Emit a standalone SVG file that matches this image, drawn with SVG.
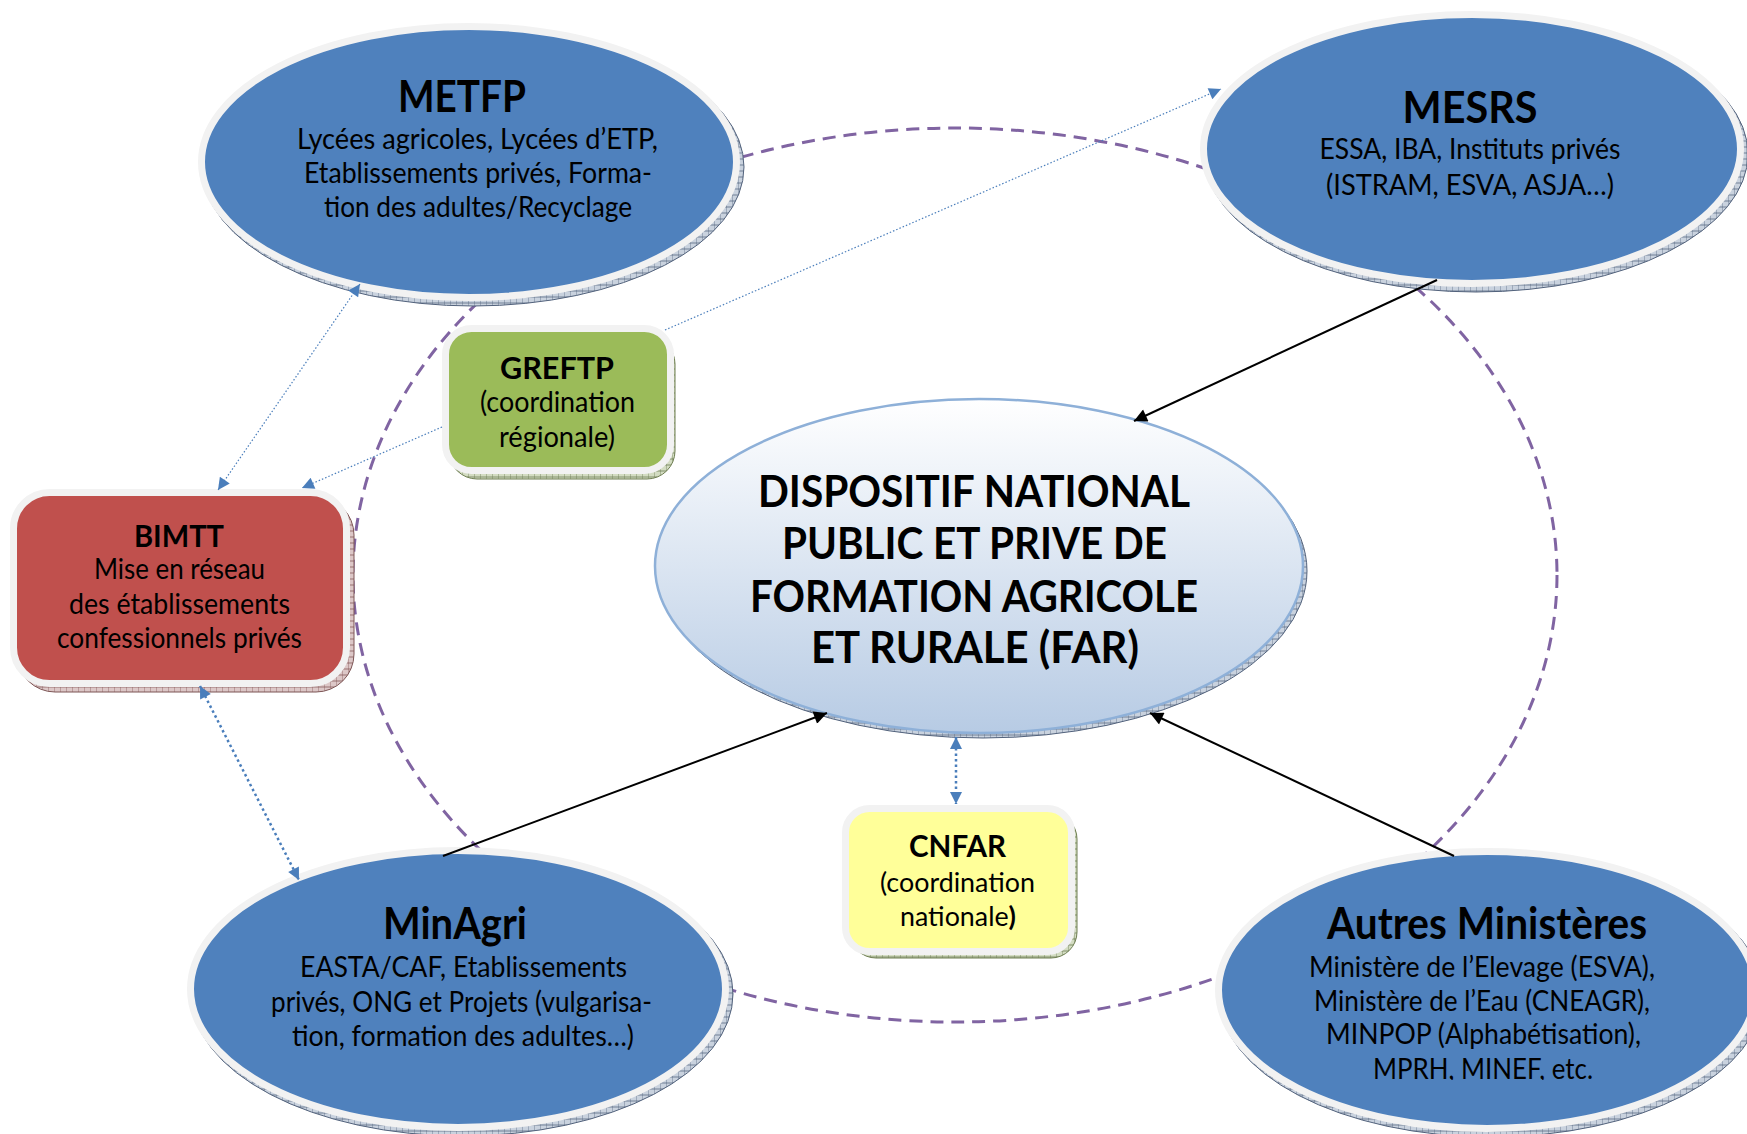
<svg xmlns="http://www.w3.org/2000/svg" width="1747" height="1134" viewBox="0 0 1747 1134">
  <defs>
    <style>
      .ell { fill: #4f81bd; stroke: #f2f2f2; stroke-width: 7; }
      .shadow-b { fill: url(#hatchBlue); stroke: #52627c; stroke-width: 1; }
      .shadow-g { fill: url(#hatchGreen); stroke: #6f7f52; stroke-width: 1; }
      .shadow-r { fill: url(#hatchRed); stroke: #7d5555; stroke-width: 1; }
      .box { stroke: #f2f2f2; stroke-width: 7; }
      text { font-family: Lato, "Liberation Sans", sans-serif; fill: #000; text-anchor: middle; }
      .t { font-weight: bold; font-size: 43px; }
      .tb { font-weight: bold; font-size: 31px; }
      .b { font-size: 28px; }
      .bs { font-size: 26px; }
      .far { font-weight: bold; font-size: 43px; }
      .ring { fill: none; stroke: #8064a2; stroke-width: 3; stroke-dasharray: 13 8; }
      .solid { stroke: #000; stroke-width: 2; fill: none; marker-end: url(#arrowBlack); }
      .dot-thin { stroke: #4a7ebb; stroke-width: 1.2; stroke-dasharray: 1.5 2; fill: none; }
      .dot-thick { stroke: #4a7ebb; stroke-width: 2.5; stroke-dasharray: 2.5 3; fill: none; }
    </style>
    <pattern id="hatchBlue" width="6" height="6" patternUnits="userSpaceOnUse">
      <rect width="6" height="6" fill="#c9d2de"/>
      <path d="M0,0 L0,6 M0,3 L6,3" stroke="#4a5a74" stroke-width="0.7"/>
    </pattern>
    <pattern id="hatchGreen" width="6" height="6" patternUnits="userSpaceOnUse">
      <rect width="6" height="6" fill="#d3dcc2"/>
      <path d="M0,0 L0,6 M0,3 L6,3" stroke="#5f6e44" stroke-width="0.7"/>
    </pattern>
    <pattern id="hatchRed" width="6" height="6" patternUnits="userSpaceOnUse">
      <rect width="6" height="6" fill="#dcc7c7"/>
      <path d="M0,0 L0,6 M0,3 L6,3" stroke="#7a4a4a" stroke-width="0.7"/>
    </pattern>
    <linearGradient id="farFill" x1="0" y1="0" x2="0" y2="1">
      <stop offset="0" stop-color="#ffffff"/>
      <stop offset="1" stop-color="#b7cbe4"/>
    </linearGradient>
    <marker id="arrowBlack" viewBox="0 0 10 10" refX="10" refY="5" markerWidth="17" markerHeight="13" markerUnits="userSpaceOnUse" orient="auto">
      <path d="M0,0 L10,5 L0,10 z" fill="#000"/>
    </marker>
    <marker id="arrowBlue" viewBox="0 0 10 10" refX="10" refY="5" markerWidth="16" markerHeight="12" markerUnits="userSpaceOnUse" orient="auto-start-reverse">
      <path d="M0,0 L10,5 L0,10 z" fill="#4a7ebb"/>
    </marker>
    <clipPath id="clipAutres">
      <rect x="1200" y="840" width="547" height="240"/>
    </clipPath>
  </defs>

  <!-- dashed ring linking the ministries -->
  <g id="ring">
    <ellipse class="ring" cx="955" cy="575" rx="602" ry="447"/>
  </g>

  <g id="metfp">
    <ellipse class="shadow-b" cx="473" cy="167" rx="271" ry="139"/>
    <ellipse class="ell" cx="469" cy="162" rx="267.5" ry="135.5"/>
    <text class="t" x="462" y="112" textLength="128" lengthAdjust="spacingAndGlyphs">METFP</text>
    <text class="b" x="477.5" y="149" textLength="361" lengthAdjust="spacingAndGlyphs">Lycées agricoles, Lycées d’ETP,</text>
    <text class="b" x="478" y="183" textLength="348" lengthAdjust="spacingAndGlyphs">Etablissements privés, Forma-</text>
    <text class="b" x="478" y="217" textLength="308" lengthAdjust="spacingAndGlyphs">tion des adultes/Recyclage</text>
  </g>

  <g id="mesrs">
    <ellipse class="shadow-b" cx="1476" cy="154" rx="272" ry="138"/>
    <ellipse class="ell" cx="1472" cy="149" rx="268.5" ry="134.5"/>
    <text class="t" x="1470" y="123" textLength="135" lengthAdjust="spacingAndGlyphs">MESRS</text>
    <text class="b" x="1470" y="159" textLength="301" lengthAdjust="spacingAndGlyphs">ESSA, IBA, Instituts privés</text>
    <text class="b" x="1470" y="195" textLength="288" lengthAdjust="spacingAndGlyphs">(ISTRAM, ESVA, ASJA…)</text>
  </g>

  <g id="minagri">
    <ellipse class="shadow-b" cx="462" cy="994" rx="271" ry="142"/>
    <ellipse class="ell" cx="458" cy="989" rx="267.5" ry="138.5"/>
    <text class="t" x="455" y="939" textLength="144" lengthAdjust="spacingAndGlyphs">MinAgri</text>
    <text class="b" x="463.5" y="977" textLength="327" lengthAdjust="spacingAndGlyphs">EASTA/CAF, Etablissements</text>
    <text class="b" x="461.5" y="1012" textLength="381" lengthAdjust="spacingAndGlyphs">privés, ONG et Projets (vulgarisa-</text>
    <text class="b" x="463" y="1046" textLength="342" lengthAdjust="spacingAndGlyphs">tion, formation des adultes…)</text>
  </g>

  <g id="autres">
    <ellipse class="shadow-b" cx="1491" cy="995" rx="272" ry="142"/>
    <ellipse class="ell" cx="1487" cy="990" rx="268.5" ry="138.5"/>
    <text class="t" x="1487" y="939" textLength="320" lengthAdjust="spacingAndGlyphs">Autres Ministères</text>
    <text class="b" x="1482" y="977" textLength="346" lengthAdjust="spacingAndGlyphs">Ministère de l’Elevage (ESVA),</text>
    <text class="b" x="1482" y="1011" textLength="336" lengthAdjust="spacingAndGlyphs">Ministère de l’Eau (CNEAGR),</text>
    <text class="b" x="1483.5" y="1044" textLength="315" lengthAdjust="spacingAndGlyphs">MINPOP (Alphabétisation),</text>
    <g clip-path="url(#clipAutres)">
      <text class="b" x="1483" y="1079" textLength="220" lengthAdjust="spacingAndGlyphs">MPRH, MINEF, etc.</text>
    </g>
  </g>

  <g id="far">
    <ellipse class="shadow-b" cx="983" cy="571" rx="324" ry="167"/>
    <ellipse cx="979" cy="566" rx="324" ry="167" fill="url(#farFill)" stroke="#8eb0d8" stroke-width="2.5"/>
    <text class="far" x="974" y="507" textLength="432" lengthAdjust="spacingAndGlyphs">DISPOSITIF NATIONAL</text>
    <text class="far" x="974.5" y="559" textLength="385" lengthAdjust="spacingAndGlyphs">PUBLIC ET PRIVE DE</text>
    <text class="far" x="974" y="612" textLength="448" lengthAdjust="spacingAndGlyphs">FORMATION AGRICOLE</text>
    <text class="far" x="975" y="663" textLength="328" lengthAdjust="spacingAndGlyphs">ET RURALE (FAR)</text>
  </g>

  <g id="greftp">
    <rect class="shadow-g" x="449" y="336" width="226" height="143" rx="28"/>
    <rect class="box" x="445.5" y="328.5" width="225" height="142" rx="26" fill="#9bbb59"/>
    <text class="tb" x="557" y="379" textLength="114" lengthAdjust="spacingAndGlyphs">GREFTP</text>
    <text class="b" x="557.5" y="412" textLength="155" lengthAdjust="spacingAndGlyphs">(coordination</text>
    <text class="b" x="557" y="447" textLength="116" lengthAdjust="spacingAndGlyphs">régionale)</text>
  </g>

  <g id="bimtt">
    <rect class="shadow-r" x="17" y="497" width="337" height="195" rx="38"/>
    <rect class="box" x="13.5" y="492.5" width="333" height="191" rx="36" fill="#c0504d"/>
    <text class="tb" x="179" y="547" textLength="90" lengthAdjust="spacingAndGlyphs">BIMTT</text>
    <text class="b" x="179.5" y="579" textLength="171" lengthAdjust="spacingAndGlyphs">Mise en réseau</text>
    <text class="b" x="179.5" y="614" textLength="221" lengthAdjust="spacingAndGlyphs">des établissements</text>
    <text class="b" x="179.5" y="648" textLength="245" lengthAdjust="spacingAndGlyphs">confessionnels privés</text>
  </g>

  <g id="cnfar">
    <rect class="shadow-g" x="850" y="813" width="227" height="145" rx="26"/>
    <rect class="box" x="845.5" y="808.5" width="226" height="143" rx="24" fill="#ffff99"/>
    <text class="tb" x="957.5" y="857" textLength="97" lengthAdjust="spacingAndGlyphs">CNFAR</text>
    <text class="bs" x="957.5" y="892" textLength="155" lengthAdjust="spacingAndGlyphs">(coordination</text>
    <text class="bs" x="958" y="926" textLength="116" lengthAdjust="spacingAndGlyphs">nationale<tspan font-weight="bold">)</tspan></text>
  </g>

  <g id="connectors">
    <line class="solid" x1="1437" y1="280" x2="1134" y2="421"/>
    <line class="solid" x1="443" y1="856" x2="827" y2="713"/>
    <line class="solid" x1="1454" y1="856" x2="1150" y2="713"/>
    <line class="dot-thick" x1="956" y1="737" x2="956" y2="804" marker-start="url(#arrowBlue)" marker-end="url(#arrowBlue)"/>
    <line class="dot-thick" x1="200" y1="686" x2="299" y2="880" marker-start="url(#arrowBlue)" marker-end="url(#arrowBlue)"/>
    <line class="dot-thin" x1="360" y1="284" x2="218" y2="490" marker-start="url(#arrowBlue)" marker-end="url(#arrowBlue)"/>
    <line class="dot-thin" x1="442" y1="427" x2="302" y2="488" marker-end="url(#arrowBlue)"/>
    <line class="dot-thin" x1="665" y1="330" x2="1221" y2="89" marker-end="url(#arrowBlue)"/>
  </g>
</svg>
